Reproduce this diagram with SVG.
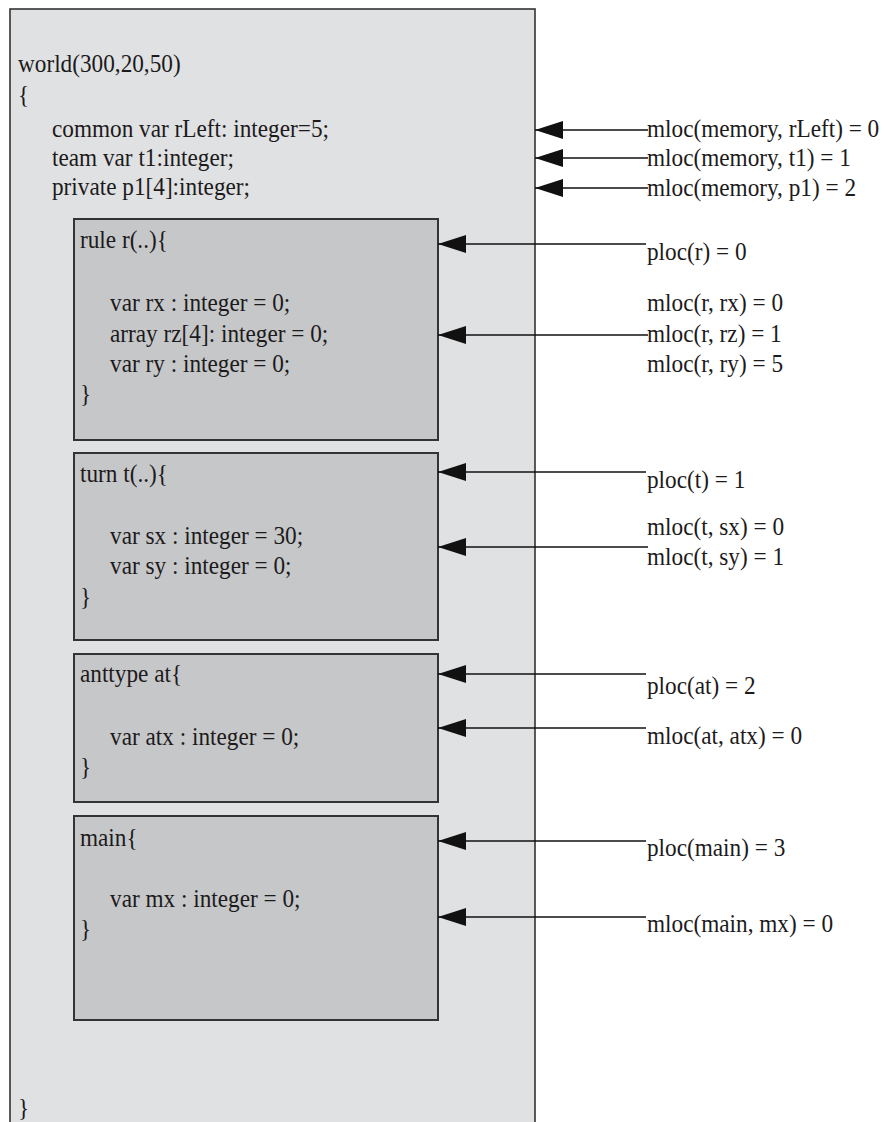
<svg xmlns="http://www.w3.org/2000/svg" width="884" height="1122" viewBox="0 0 884 1122">
<style>
.t{font-family:"Liberation Serif","Times New Roman",serif;font-size:25px;fill:#1c1a1b}
.outer{fill:#e0e1e3;stroke:#333;stroke-width:1.6}
.inner{fill:#c6c7c9;stroke:#333;stroke-width:2}
.c{stroke:#111;stroke-width:1.6;fill:none;marker-end:url(#ah)}
</style>
<defs>
<marker id="ah" markerUnits="userSpaceOnUse" markerWidth="28" markerHeight="18" refX="28" refY="9" orient="auto">
<path d="M0,0 L28,9 L0,18 Z" fill="#111"/>
</marker>
</defs>
<rect width="884" height="1122" fill="#fff"/>
<g id="world">
<rect class="outer" x="10" y="9" width="525" height="1130"/>
<g transform="scale(0.93 1)">
<text class="t" x="19.4" y="72">world(300,20,50)</text>
<text class="t" x="19.4" y="103">{</text>
<text class="t" x="55.9" y="137">common var rLeft: integer=5;</text>
<text class="t" x="55.9" y="166">team var t1:integer;</text>
<text class="t" x="55.9" y="195">private p1[4]:integer;</text>
<text class="t" x="19.4" y="1116">}</text>
</g>
</g>
<g id="rule">
<rect class="inner" x="74" y="219" width="364" height="221"/>
<g transform="scale(0.93 1)">
<text class="t" x="86" y="248">rule r(..){</text>
<text class="t" x="118.3" y="311">var rx : integer = 0;</text>
<text class="t" x="118.3" y="342">array rz[4]: integer = 0;</text>
<text class="t" x="118.3" y="372">var ry : integer = 0;</text>
<text class="t" x="86" y="402">}</text>
</g>
</g>
<g id="turn">
<rect class="inner" x="74" y="453" width="364" height="187"/>
<g transform="scale(0.93 1)">
<text class="t" x="86" y="482">turn t(..){</text>
<text class="t" x="118.3" y="544">var sx : integer = 30;</text>
<text class="t" x="118.3" y="574">var sy : integer = 0;</text>
<text class="t" x="86" y="605">}</text>
</g>
</g>
<g id="anttype">
<rect class="inner" x="74" y="654" width="364" height="148"/>
<g transform="scale(0.93 1)">
<text class="t" x="86" y="682">anttype at{</text>
<text class="t" x="118.3" y="745">var atx : integer = 0;</text>
<text class="t" x="86" y="775">}</text>
</g>
</g>
<g id="main">
<rect class="inner" x="74" y="816" width="364" height="204"/>
<g transform="scale(0.93 1)">
<text class="t" x="86" y="846">main{</text>
<text class="t" x="118.3" y="907">var mx : integer = 0;</text>
<text class="t" x="86" y="937">}</text>
</g>
</g>
<g id="labels">
<g transform="scale(0.93 1)">
<text class="t" x="695.7" y="137">mloc(memory, rLeft) = 0</text>
<text class="t" x="695.7" y="166">mloc(memory, t1) = 1</text>
<text class="t" x="695.7" y="196">mloc(memory, p1) = 2</text>
<text class="t" x="695.7" y="260">ploc(r) = 0</text>
<text class="t" x="695.7" y="311">mloc(r, rx) = 0</text>
<text class="t" x="695.7" y="342">mloc(r, rz) = 1</text>
<text class="t" x="695.7" y="372">mloc(r, ry) = 5</text>
<text class="t" x="695.7" y="488">ploc(t) = 1</text>
<text class="t" x="695.7" y="535">mloc(t, sx) = 0</text>
<text class="t" x="695.7" y="565">mloc(t, sy) = 1</text>
<text class="t" x="695.7" y="694">ploc(at) = 2</text>
<text class="t" x="695.7" y="744">mloc(at, atx) = 0</text>
<text class="t" x="695.7" y="856">ploc(main) = 3</text>
<text class="t" x="695.7" y="932">mloc(main, mx) = 0</text>
</g>
</g>
<g id="connectors">
<line class="c" x1="648" y1="130" x2="535" y2="130"/>
<line class="c" x1="648" y1="158" x2="535" y2="158"/>
<line class="c" x1="648" y1="188" x2="535" y2="188"/>
<line class="c" x1="646" y1="244" x2="438" y2="244"/>
<line class="c" x1="648" y1="335" x2="438" y2="335"/>
<line class="c" x1="646" y1="472" x2="438" y2="472"/>
<line class="c" x1="648" y1="547" x2="438" y2="547"/>
<line class="c" x1="646" y1="674" x2="438" y2="674"/>
<line class="c" x1="646" y1="728" x2="438" y2="728"/>
<line class="c" x1="646" y1="841" x2="438" y2="841"/>
<line class="c" x1="646" y1="917" x2="438" y2="917"/>
</g>
</svg>
